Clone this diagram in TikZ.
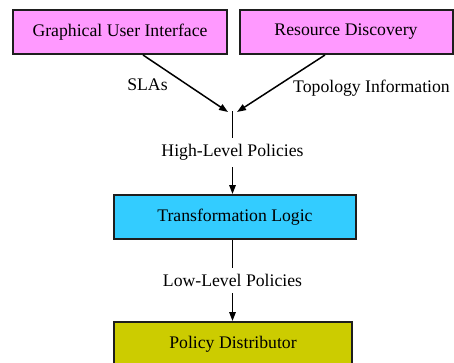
\documentclass[tikz,border=0pt]{standalone}
\usepackage{fontspec}
\setmainfont{Liberation Serif}
\usetikzlibrary{arrows.meta}
\definecolor{boxpink}{RGB}{255,153,255}
\definecolor{boxcyan}{RGB}{51,204,255}
\definecolor{boxolive}{RGB}{204,204,0}
\definecolor{edge}{RGB}{30,30,30}
\tikzset{
  blk/.style={draw=edge, line width=2pt, minimum height=44pt, inner sep=0pt,
    font=\fontsize{17.7}{20}\selectfont},
  conn/.style={line width=1.5pt, -{Triangle[length=9pt,width=6.5pt]}},
  lbl/.style={font=\fontsize{17.7}{20}\selectfont, inner sep=0pt},
  gaplbl/.style={fill=white, inner xsep=2pt, inner ysep=6pt, font=\fontsize{17.7}{20}\selectfont}
}
\begin{document}
\begin{tikzpicture}[x=1pt,y=-1pt]
\clip (0,0) rectangle (454,362);
\fill[white] (0,0) rectangle (454,362);
\node[blk, fill=boxpink, minimum width=214pt] (gui) at (120,32) {Graphical User Interface};
\node[blk, fill=boxpink, minimum width=213pt] (rd) at (346,32) {Resource Discovery};
\node[blk, fill=boxcyan, minimum width=242pt] (tl) at (235,217) {Transformation Logic};
\node[blk, fill=boxolive, minimum width=238pt] (pd) at (233,344) {Policy Distributor};
\coordinate (jl) at (228,112);
\coordinate (jr) at (237,112);
\coordinate (j) at (232.5,111);
\node[lbl] (sla) at (147.5,85) {SLAs};
\node[lbl] (topo) at (371.5,88) {Topology Information};
\draw[conn] ([xshift=23pt]gui.south) -- (jl);
\draw[conn] ([xshift=-21pt]rd.south) -- (jr);
\draw[conn] (j) -- node[midway, gaplbl] (hlp) {High-Level Policies} (tl.north -| j);
\draw[conn] (tl.south -| j) -- node[midway, gaplbl] (llp) {Low-Level Policies} (pd.north -| j);
\end{tikzpicture}
\end{document}
